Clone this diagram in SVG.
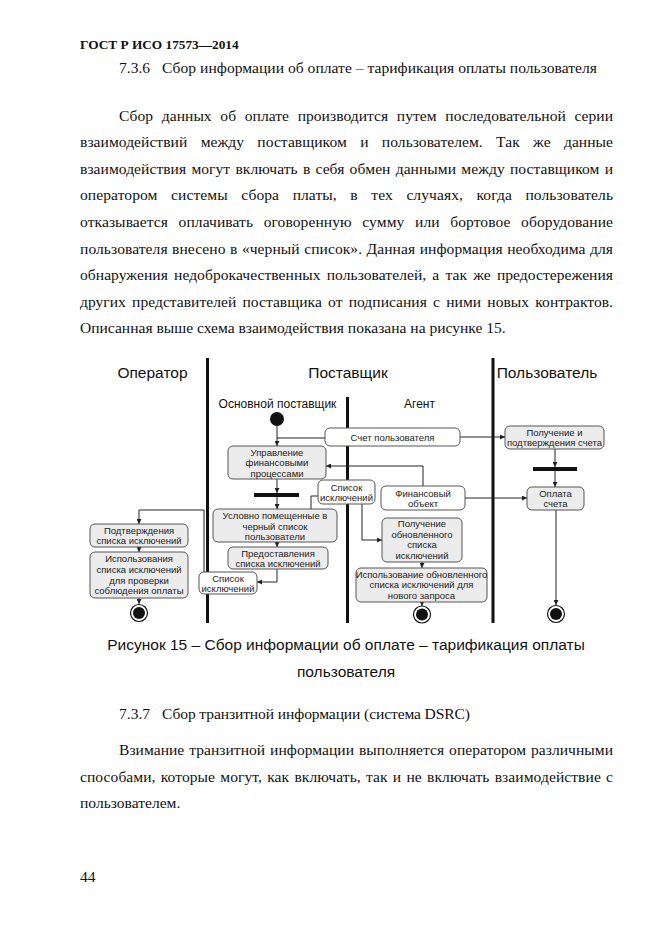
<svg xmlns="http://www.w3.org/2000/svg" width="661" height="935" viewBox="0 0 661 935">
<style>
.body{font-family:"Liberation Serif","Times New Roman",serif;font-size:15.55px;fill:#111}
.hdr{font-family:"Liberation Serif","Times New Roman",serif;font-size:13.3px;font-weight:bold;fill:#111}
.cap{font-family:"Liberation Sans",Arial,sans-serif;font-size:15.5px;fill:#111;text-anchor:middle}
.lane{font-family:"Liberation Sans",Arial,sans-serif;font-size:15.5px;fill:#111;text-anchor:middle}
.sub{font-family:"Liberation Sans",Arial,sans-serif;font-size:12px;fill:#111;text-anchor:middle}
.bt{font-family:"Liberation Sans",Arial,sans-serif;font-size:9.5px;fill:#222;text-anchor:middle}
.act{fill:#ececec;stroke:#555;stroke-width:1}
.obj{fill:#fff;stroke:#555;stroke-width:1}
.sw{stroke:#111;stroke-width:3}
.cn{fill:none;stroke:#222;stroke-width:1}
.ar{fill:none;stroke:#222;stroke-width:1;marker-end:url(#ah)}
</style>
<defs>
<marker id="ah" viewBox="0 0 6 6" refX="6" refY="3" markerWidth="5" markerHeight="5" markerUnits="userSpaceOnUse" orient="auto"><path d="M0,0 L6,3 L0,6 z" fill="#222"/></marker>
</defs>
<rect x="0" y="0" width="661" height="935" fill="#fff"/>

<g id="page-text">
<text class="hdr" x="80" y="49.3">ГОСТ Р ИСО 17573—2014</text>
<text class="body" x="119" y="73.3">7.3.6</text>
<text class="body" x="162" y="73.3" textLength="435" lengthAdjust="spacing">Сбор информации об оплате – тарификация оплаты пользователя</text>
<text class="body" x="119" y="120.5" word-spacing="4.8" textLength="494" lengthAdjust="spacing">Сбор данных об оплате производится путем последовательной серии</text>
<text class="body" x="80" y="147.1" word-spacing="9.4" textLength="533" lengthAdjust="spacing">взаимодействий между поставщиком и пользователем. Так же данные</text>
<text class="body" x="80" y="173.7" word-spacing="1.3" textLength="533" lengthAdjust="spacing">взаимодействия могут включать в себя обмен данными между поставщиком и</text>
<text class="body" x="80" y="200.3" word-spacing="9.6" textLength="533" lengthAdjust="spacing">оператором системы сбора платы, в тех случаях, когда пользователь</text>
<text class="body" x="80" y="226.9" word-spacing="6.6" textLength="533" lengthAdjust="spacing">отказывается оплачивать оговоренную сумму или бортовое оборудование</text>
<text class="body" x="80" y="253.5" word-spacing="0.5" textLength="533" lengthAdjust="spacing">пользователя внесено в «черный список». Данная информация необходима для</text>
<text class="body" x="80" y="280.1" word-spacing="2.2" textLength="533" lengthAdjust="spacing">обнаружения недоброкачественных пользователей, а так же предостережения</text>
<text class="body" x="80" y="306.7" word-spacing="2.3" textLength="533" lengthAdjust="spacing">других представителей поставщика от подписания с ними новых контрактов.</text>
<text class="body" x="80" y="333.3">Описанная выше схема взаимодействия показана на рисунке 15.</text>

<text class="cap" x="346" y="650">Рисунок 15 – Сбор информации об оплате – тарификация оплаты</text>
<text class="cap" x="346" y="676.6">пользователя</text>

<text class="body" x="119" y="719">7.3.7</text>
<text class="body" x="162" y="719" textLength="308" lengthAdjust="spacing">Сбор транзитной информации (система DSRC)</text>
<text class="body" x="119" y="755" word-spacing="1.0" textLength="494" lengthAdjust="spacing">Взимание транзитной информации выполняется оператором различными</text>
<text class="body" x="80" y="781.6" word-spacing="1.3" textLength="533" lengthAdjust="spacing">способами, которые могут, как включать, так и не включать взаимодействие с</text>
<text class="body" x="80" y="808.2">пользователем.</text>
<text class="body" x="80" y="882">44</text>
</g>

<g id="swimlanes">
<line class="sw" x1="207.5" y1="358" x2="207.5" y2="623"/>
<line class="sw" x1="493" y1="358" x2="493" y2="623"/>
<line class="sw" x1="347.5" y1="397" x2="347.5" y2="623"/>
<text class="lane" x="152.5" y="378">Оператор</text>
<text class="lane" x="348" y="378">Поставщик</text>
<text class="lane" x="547" y="378">Пользователь</text>
<text class="sub" x="277.5" y="408">Основной поставщик</text>
<text class="sub" x="419.5" y="408">Агент</text>
</g>

<g id="connectors">
<path class="ar" d="M277,426 L277,446"/>
<path class="cn" d="M325,438 L277,438"/>
<path class="ar" d="M460,437 L505,437"/>
<path class="ar" d="M277,479 L277,493"/>
<path class="ar" d="M277,497 L277,509"/>
<path class="cn" d="M311,509 L311,496 L318,496"/>
<path class="ar" d="M362,504 L362,540 L382,540"/>
<path class="ar" d="M423,486 L423,466 L326,466"/>
<path class="ar" d="M465,498 L527,498"/>
<path class="ar" d="M555,449 L555,467"/>
<path class="ar" d="M555,471 L555,487"/>
<path class="ar" d="M556,510 L556,605"/>
<path class="ar" d="M277,542 L277,547"/>
<path class="ar" d="M277,569 L277,582 L257,582"/>
<path class="ar" d="M204,572 L204,510 L139,510 L139,524"/>
<path class="ar" d="M139,547 L139,552"/>
<path class="ar" d="M139,598 L139,604"/>
<path class="ar" d="M422,562 L422,568"/>
<path class="ar" d="M422,602 L422,606"/>
</g>

<g id="start">
<circle cx="277" cy="419" r="7" fill="#111"/>
</g>

<g id="schet">
<rect class="obj" x="325" y="428" width="135" height="18" rx="5"/>
<text class="bt" x="392.5" y="440.5">Счет пользователя</text>
</g>

<g id="upravlenie">
<rect class="act" x="228" y="446" width="98" height="33" rx="5"/>
<text class="bt" x="277" y="455.5">Управление</text>
<text class="bt" x="277" y="466">финансовыми</text>
<text class="bt" x="277" y="476.5">процессами</text>
</g>

<g id="bar1">
<rect x="254" y="493" width="45" height="4" fill="#111"/>
</g>

<g id="spisok1">
<rect class="obj" x="318" y="480" width="57" height="24" rx="5"/>
<text class="bt" x="346.5" y="490.5">Список</text>
<text class="bt" x="346.5" y="501">исключений</text>
</g>

<g id="finobj">
<rect class="obj" x="381" y="486" width="84" height="24" rx="5"/>
<text class="bt" x="423" y="496.5">Финансовый</text>
<text class="bt" x="423" y="507">объект</text>
</g>

<g id="uslovno">
<rect class="act" x="213" y="509" width="124" height="33" rx="5"/>
<text class="bt" x="275" y="519">Условно помещенные в</text>
<text class="bt" x="275" y="529.5">черный список</text>
<text class="bt" x="275" y="540">пользователи</text>
</g>

<g id="predost">
<rect class="act" x="228" y="547" width="100" height="22" rx="5"/>
<text class="bt" x="278" y="556.5">Предоставления</text>
<text class="bt" x="278" y="567">списка исключений</text>
</g>

<g id="spisok2">
<rect class="obj" x="199" y="572" width="58" height="22" rx="5"/>
<text class="bt" x="228" y="581.5">Список</text>
<text class="bt" x="228" y="592">исключений</text>
</g>

<g id="podtv">
<rect class="act" x="90" y="524" width="98" height="23" rx="5"/>
<text class="bt" x="139" y="533.5">Подтверждения</text>
<text class="bt" x="139" y="544">списка исключений</text>
</g>

<g id="ispolz">
<rect class="act" x="90" y="552" width="98" height="46" rx="5"/>
<text class="bt" x="139" y="562">Использования</text>
<text class="bt" x="139" y="572.8">списка исключений</text>
<text class="bt" x="139" y="583.6">для проверки</text>
<text class="bt" x="139" y="594.4">соблюдения оплаты</text>
</g>

<g id="end1">
<circle cx="139" cy="613" r="8.5" fill="#fff" stroke="#111" stroke-width="1.2"/>
<circle cx="139" cy="613" r="6" fill="#111"/>
</g>

<g id="poluch-obn">
<rect class="act" x="382" y="518" width="80" height="44" rx="5"/>
<text class="bt" x="422" y="527">Получение</text>
<text class="bt" x="422" y="537.5">обновленного</text>
<text class="bt" x="422" y="548">списка</text>
<text class="bt" x="422" y="558.5">исключений</text>
</g>

<g id="ispolz-obn">
<rect class="act" x="356" y="568" width="131" height="34" rx="5"/>
<text class="bt" x="421.5" y="577.5">Использование обновленного</text>
<text class="bt" x="421.5" y="588">списка исключений для</text>
<text class="bt" x="421.5" y="598.5">нового запроса</text>
</g>

<g id="end2">
<circle cx="422" cy="614.5" r="8.5" fill="#fff" stroke="#111" stroke-width="1.2"/>
<circle cx="422" cy="614.5" r="6" fill="#111"/>
</g>

<g id="poluch-schet">
<rect class="act" x="505" y="426" width="99" height="23" rx="5"/>
<text class="bt" x="554.5" y="435.5">Получение и</text>
<text class="bt" x="554.5" y="446">подтверждения счета</text>
</g>

<g id="bar2">
<rect x="533" y="467" width="44" height="4" fill="#111"/>
</g>

<g id="oplata">
<rect class="act" x="527" y="487" width="57" height="23" rx="5"/>
<text class="bt" x="555.5" y="496.5">Оплата</text>
<text class="bt" x="555.5" y="507">счета</text>
</g>

<g id="end3">
<circle cx="556" cy="614" r="8.5" fill="#fff" stroke="#111" stroke-width="1.2"/>
<circle cx="556" cy="614" r="6" fill="#111"/>
</g>
</svg>
